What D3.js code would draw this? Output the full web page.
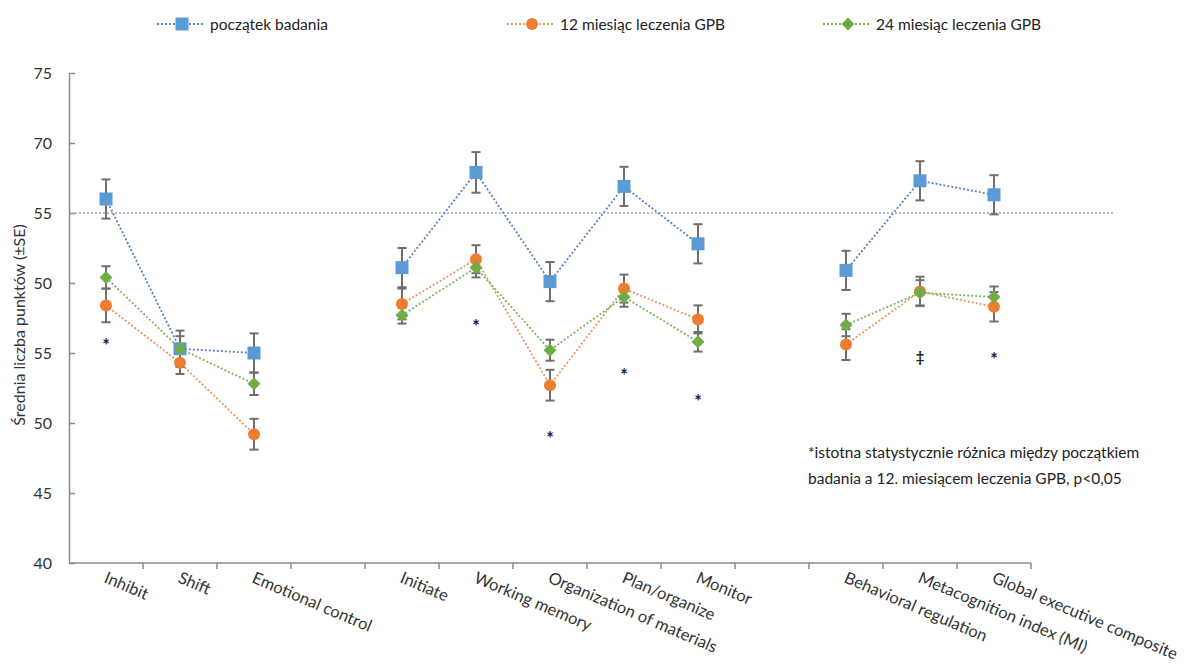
<!DOCTYPE html>
<html>
<head>
<meta charset="utf-8">
<script src="https://cdn.jsdelivr.net/npm/d3@7"></script>
<style>
  body { margin: 0; background: #fff; }
  svg { display: block; font-family: Lato, "Open Sans", sans-serif; }
</style>
</head>
<body>
<svg id="chart" width="1192" height="666"></svg>
<script>
// categories, split in the three groups of the figure
const groups = [
  ["Inhibit", "Shift", "Emotional control"],
  ["Initiate", "Working memory", "Organization of materials", "Plan/organize", "Monitor"],
  ["Behavioral regulation", "Metacognition index (MI)", "Global executive composite"]
];
const categories = groups.flat();

// means
const baseline = [66.0, 55.3, 55.0, 61.1, 67.9, 60.1, 66.9, 62.8, 60.9, 67.3, 66.3];
const month12  = [58.4, 54.3, 49.2, 58.5, 61.7, 52.7, 59.6, 57.4, 55.6, 59.4, 58.3];
const month24  = [60.4, 55.3, 52.8, 57.7, 61.1, 55.2, 59.0, 55.8, 57.0, 59.3, 59.0];
// standard errors
const baselineSE = [1.4, 1.3, 1.4, 1.4, 1.45, 1.4, 1.4, 1.4, 1.4, 1.4, 1.4];
const month12SE  = [1.2, 0.8, 1.1, 1.1, 1.0, 1.1, 1.0, 1.0, 1.1, 1.05, 1.05];
const month24SE  = [0.8, 0.9, 0.8, 0.6, 0.7, 0.75, 0.7, 0.7, 0.8, 0.9, 0.75];

// significance marks (value where the mark sits)
const sigValues = [55.7, null, null, null, 57.1, 49.1, 53.6, 51.7, null, 54.8, 54.7];
const sigMarks  = ["*", "", "", "", "*", "*", "*", "*", "", "‡", "*"];

const refValue = 65;
const yTickValues = [40, 45, 50, 55, 60, 65, 70, 75];
const yTickLabels = ["40", "45", "50", "55", "50", "55", "70", "75"];

const seriesNames = ["początek badania", "12 miesiąc leczenia GPB", "24 miesiąc leczenia GPB"];
const note = ["*istotna statystycznie różnica między początkiem",
              "badania a 12. miesiącem leczenia GPB, p<0,05"];
const yTitle = "Średnia liczba punktów (±SE)";

const series = [
  { name: seriesNames[0], values: baseline, se: baselineSE, color: "#5b9bd5", line: "#5a7fc2", shape: "square" },
  { name: seriesNames[1], values: month12,  se: month12SE,  color: "#ed7d31", line: "#e99560", shape: "circle" },
  { name: seriesNames[2], values: month24,  se: month24SE,  color: "#70ad47", line: "#7db457", shape: "diamond" }
];

// band domain with empty slots between groups
const slots = [];
groups.forEach((g, i) => {
  if (i > 0) slots.push("gap" + i);
  g.forEach(c => slots.push(c));
});

const svg = d3.select("#chart");
const plotLeft = 69, plotRight = 1031, plotTop = 73, plotBottom = 563;

const x = d3.scaleBand().domain(slots).range([plotLeft, plotRight]);
const y = d3.scaleLinear().domain([40, 75]).range([plotBottom, plotTop]);
const cx = c => x(c) + x.bandwidth() / 2;

const axisColor = "#8c8c8c";
const textColor = "#333";

// reference line
svg.append("line")
  .attr("x1", plotLeft + 6).attr("x2", 1115)
  .attr("y1", y(refValue)).attr("y2", y(refValue))
  .attr("stroke", "#a6a6a6").attr("stroke-width", 1.5)
  .attr("stroke-dasharray", "2,2");

// y axis
const yAxis = svg.append("g")
  .attr("transform", `translate(${plotLeft},0)`)
  .call(d3.axisLeft(y).tickValues(yTickValues)
    .tickFormat((d, i) => yTickLabels[i]).tickSizeInner(-6).tickSizeOuter(0).tickPadding(17));
yAxis.select(".domain").attr("stroke", axisColor).attr("stroke-width", 1.5);
yAxis.selectAll(".tick line").attr("stroke", axisColor).attr("stroke-width", 1.5);
yAxis.selectAll(".tick text").attr("fill", textColor).style("font-size", "16px")
  .style("font-family", "Lato, sans-serif");

// x axis, ticks between categories
svg.append("line")
  .attr("x1", plotLeft).attr("x2", plotRight).attr("y1", plotBottom).attr("y2", plotBottom)
  .attr("stroke", axisColor).attr("stroke-width", 1.5);
svg.selectAll(".xtick")
  .data(slots.map(s => x(s)).concat([plotRight]).slice(1))
  .join("line")
  .attr("class", "xtick")
  .attr("x1", d => d).attr("x2", d => d)
  .attr("y1", plotBottom).attr("y2", plotBottom + 6)
  .attr("stroke", axisColor).attr("stroke-width", 1.5);

svg.selectAll(".xlabel")
  .data(categories)
  .join("text")
  .attr("class", "xlabel")
  .attr("transform", d => `translate(${cx(d) - 3},${plotBottom + 19}) rotate(23)`)
  .attr("fill", textColor)
  .style("font-size", "16.5px")
  .text(d => d);

// y title
svg.append("text")
  .attr("transform", `translate(25,${(plotTop + plotBottom) / 2 + 7}) rotate(-90)`)
  .attr("text-anchor", "middle")
  .attr("fill", textColor)
  .style("font-size", "16px")
  .text(yTitle);

function drawMarker(sel, shape, color) {
  if (shape === "square") {
    sel.append("rect").attr("x", -6.5).attr("y", -6.5).attr("width", 13).attr("height", 13).attr("fill", color);
  } else if (shape === "circle") {
    sel.append("circle").attr("r", 6).attr("fill", color);
  } else {
    sel.append("path").attr("d", "M0,-6.5L6.5,0L0,6.5L-6.5,0Z").attr("fill", color);
  }
}

// dotted lines per group
series.forEach(s => {
  const line = d3.line()
    .x(d => cx(d))
    .y(d => y(s.values[categories.indexOf(d)]));
  groups.forEach(g => {
    svg.append("path")
      .attr("d", line(g))
      .attr("fill", "none")
      .attr("stroke", s.line)
      .attr("stroke-width", 1.8)
      .attr("stroke-dasharray", "2,2");
  });
});

// error bars
series.forEach(s => {
  const eb = svg.append("g");
  categories.forEach((c, i) => {
    const hi = y(s.values[i] + s.se[i]), lo = y(s.values[i] - s.se[i]);
    eb.append("line").attr("x1", cx(c)).attr("x2", cx(c)).attr("y1", hi).attr("y2", lo);
    eb.append("line").attr("x1", cx(c) - 4.5).attr("x2", cx(c) + 4.5).attr("y1", hi).attr("y2", hi);
    eb.append("line").attr("x1", cx(c) - 4.5).attr("x2", cx(c) + 4.5).attr("y1", lo).attr("y2", lo);
  });
  eb.selectAll("line").attr("stroke", "#6f6f6f").attr("stroke-width", 2);
});

// markers
series.forEach(s => {
  categories.forEach((c, i) => {
    const m = svg.append("g").attr("transform", `translate(${cx(c)},${y(s.values[i])})`);
    drawMarker(m, s.shape, s.color);
  });
});

// significance marks
svg.selectAll(".sig")
  .data(categories.map((c, i) => ({ c, v: sigValues[i], m: sigMarks[i] })).filter(d => d.v !== null))
  .join("text")
  .attr("class", "sig")
  .attr("x", d => cx(d.c))
  .attr("y", d => y(d.v) + (d.m === "*" ? 9 : 6))
  .attr("text-anchor", "middle")
  .attr("fill", "#222")
  .style("font-size", d => d.m === "*" ? "18px" : "15px")
  .style("font-weight", "bold")
  .text(d => d.m);

// note
svg.append("text")
  .attr("x", 808).attr("y", 458)
  .attr("fill", "#222")
  .style("font-size", "15.5px")
  .selectAll("tspan")
  .data(note)
  .join("tspan")
  .attr("x", 808)
  .attr("dy", (d, i) => i === 0 ? 0 : 26)
  .text(d => d);

// legend
const legendX = [157, 507, 823];
series.forEach((s, i) => {
  const g = svg.append("g").attr("transform", `translate(${legendX[i]},24)`);
  g.append("line").attr("x1", 0).attr("x2", 48).attr("y1", 0).attr("y2", 0)
    .attr("stroke", s.line).attr("stroke-width", 2).attr("stroke-dasharray", "2,2");
  drawMarker(g.append("g").attr("transform", "translate(25,0)"), s.shape, s.color);
  g.append("text").attr("x", 53).attr("y", 5.5)
    .attr("fill", "#222").style("font-size", "15.5px").text(s.name);
});
</script>
</body>
</html>
